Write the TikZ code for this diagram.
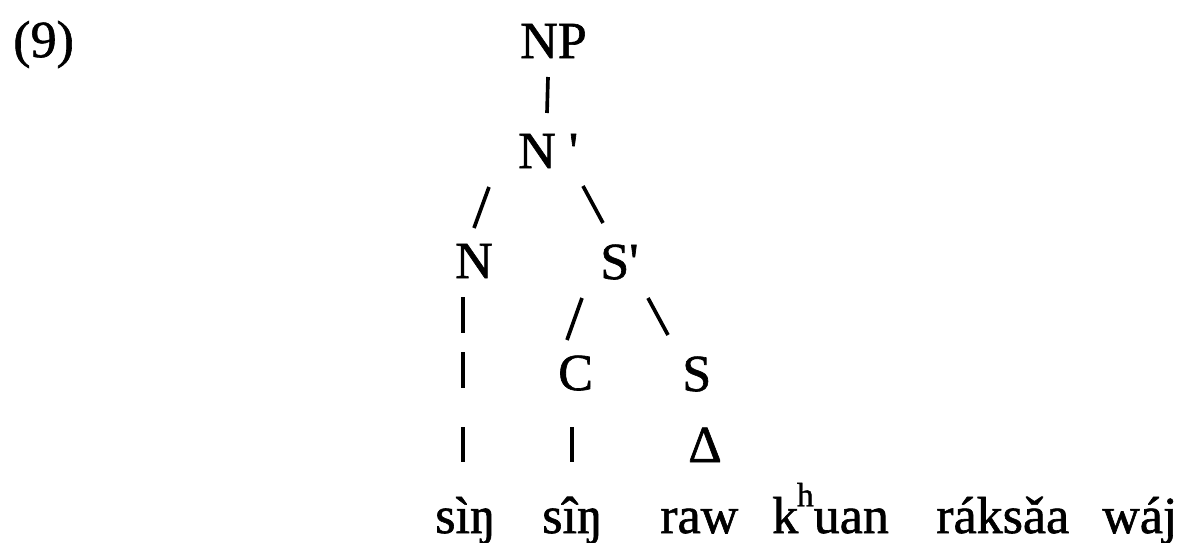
\documentclass[tikz,border=0pt]{standalone}
\usepackage{fontspec}
\newfontfamily\treefont[FakeBold=1.2]{Liberation Serif}
\usetikzlibrary{calc}
\begin{document}
\begin{tikzpicture}[x=0.025cm,y=-0.025cm,
        lbl/.style={anchor=base west,inner sep=0pt,font=\treefont\fontsize{37}{44}\selectfont},
        branch/.style={line width=2.6pt}]
                \useasboundingbox (0,0) rectangle (1184,542);
                \node[lbl] (ex) at (13,57) {(9)};
                \node[lbl] (np) at (520,58) {NP};
                \node[lbl] (nbar) at (518,168) {N '};
                \node[lbl] (n) at (455,278) {N};
                \node[lbl] (sbar) at (600,279) {S'};
                \node[lbl] (c) at (558,390) {C};
                \node[lbl] (s) at (682,391) {S};
                \node[lbl] (tri) at (688,462) {Δ};
                \node[lbl] (w1) at (435,533) {sìŋ};
                \node[lbl] (w2) at (542,533) {sîŋ};
                \node[lbl] (w3) at (660,533) {raw};
                \node[lbl] (w4) at (772,533) {k\kern-1pt\raisebox{19pt}{\fontsize{24}{24}\selectfont h}uan};
                \node[lbl] (w5) at (936,533) {ráksǎa};
                \node[lbl] (w6) at (1102,533) {wáj};
                \draw[branch] ($(np.base west)+(28,19)$) -- ($(nbar.base west)+(29,-55)$);
                \draw[branch] ($(nbar.base west)+(-29,19)$) -- ($(n.base west)+(19,-50)$);
                \draw[branch] ($(nbar.base west)+(65,18)$) -- ($(sbar.base west)+(3,-56)$);
                \draw[branch,dash pattern=on 0.9cm off 0.475cm on 0.9cm off 0.975cm on 0.875cm off 1cm]
                        ($(n.base west)+(8,19)$) -- ($(w1.base west)+(28,-71)$);
                \draw[branch] ($(sbar.base west)+(-18,19)$) -- ($(c.base west)+(9,-50)$);
                \draw[branch] ($(sbar.base west)+(48,19)$) -- ($(s.base west)+(-14,-56)$);
                \draw[branch] ($(c.base west)+(14,37)$) -- ($(w2.base west)+(30,-71)$);
\end{tikzpicture}
\end{document}
